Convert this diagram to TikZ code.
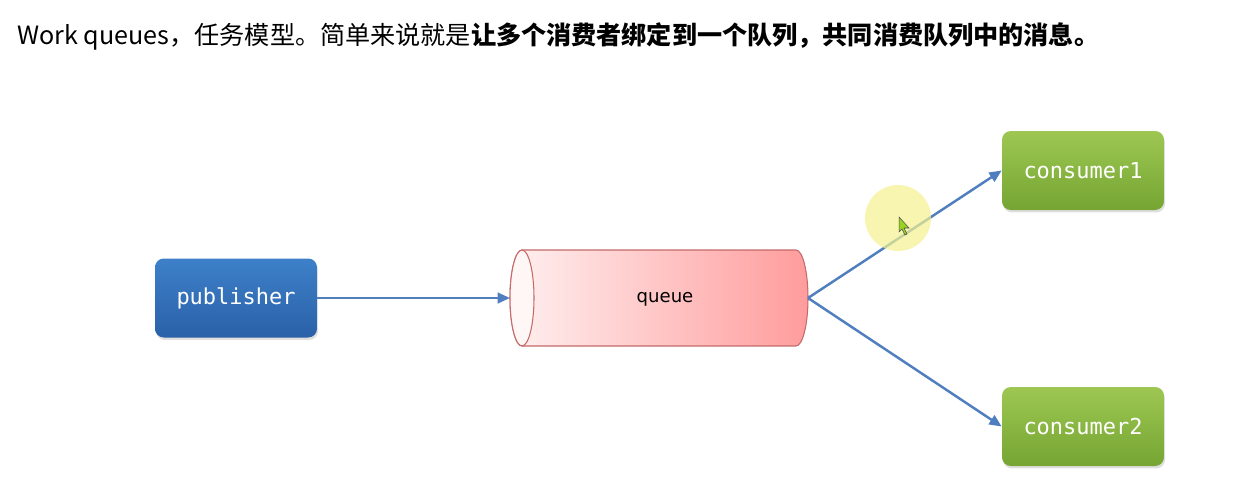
\documentclass[tikz,border=0pt]{standalone}
\usepackage{fontspec}
\setmainfont{DejaVu Sans}
\newfontfamily\cjk{Noto Sans CJK SC}
\newfontfamily\monof{DejaVu Sans Mono}
\usetikzlibrary{arrows.meta,shadows}
\definecolor{pubtop}{HTML}{3D80C9}
\definecolor{pubbot}{HTML}{2A61A8}
\definecolor{contop}{HTML}{9DC752}
\definecolor{conbot}{HTML}{76A533}
\definecolor{arrowc}{HTML}{4F7FBF}
\definecolor{qleft}{HTML}{FFF0F0}
\definecolor{qright}{HTML}{FF9C9C}
\definecolor{qborder}{HTML}{C46A6A}
\definecolor{hilite}{HTML}{F5F28E}
\tikzset{
  boxbase/.style={rounded corners=5pt, minimum width=3.24cm, minimum height=1.58cm,
    text=white, font=\monof\fontsize{12.5}{14}\selectfont,
    drop shadow={opacity=0.25, shadow xshift=0.6pt, shadow yshift=-1.4pt}},
  pubbox/.style={boxbase, top color=pubtop, bottom color=pubbot},
  conbox/.style={boxbase, top color=contop, bottom color=conbot},
  flow/.style={draw=arrowc, line width=1.4pt, -{Triangle[length=7pt,width=6pt]}},
}
\begin{document}
\begin{tikzpicture}[x=0.02cm,y=-0.02cm]
\useasboundingbox[fill=white] (0,0) rectangle (1250,491);
% title
\node[anchor=west, inner sep=0pt, font=\cjk\fontsize{14.3}{16}\selectfont] (title) at (17,36)
  {Work queues，任务模型。简单来说就是{\bfseries 让多个消费者绑定到一个队列，共同消费队列中的消息。}};
% publisher
\node[pubbox] (pub) at (236,298) {publisher};
% consumers
\node[conbox] (c1) at (1083,170.5) {consumer1};
\node[conbox] (c2) at (1083,426.5) {consumer2};
% queue cylinder
\shade[left color=qleft, right color=qright, draw=qborder, line width=0.6pt]
  (522,250) -- (796,250) arc[start angle=90, end angle=-90, x radius=0.24cm, y radius=0.96cm]
  -- (522,346) arc[start angle=270, end angle=90, x radius=0.24cm, y radius=0.96cm] -- cycle;
\draw[draw=qborder, fill=qleft!60!white, line width=0.6pt] (522,298) ellipse[x radius=0.24cm, y radius=0.96cm];
\node[font=\fontsize{10.3}{12}\selectfont, text=black] (queue) at (665,299) {queue};
\coordinate (qin) at (510,298);
\coordinate (qout) at (808,298);
% connectors
\draw[flow] (pub.east) -- (qin);
\draw[flow] (qout) -- (c1.west);
\draw[flow] (qout) -- (c2.west);
% cursor highlight
\fill[hilite, opacity=0.7] (898,218) circle[radius=0.66cm];
\filldraw[fill=yellow!60!green, draw=black!70, line width=0.3pt]
  (899,217) -- (899,232) -- (902,229) -- (905,235) -- (907,234) -- (904,228) -- (909,228) -- cycle;
\end{tikzpicture}
\end{document}
